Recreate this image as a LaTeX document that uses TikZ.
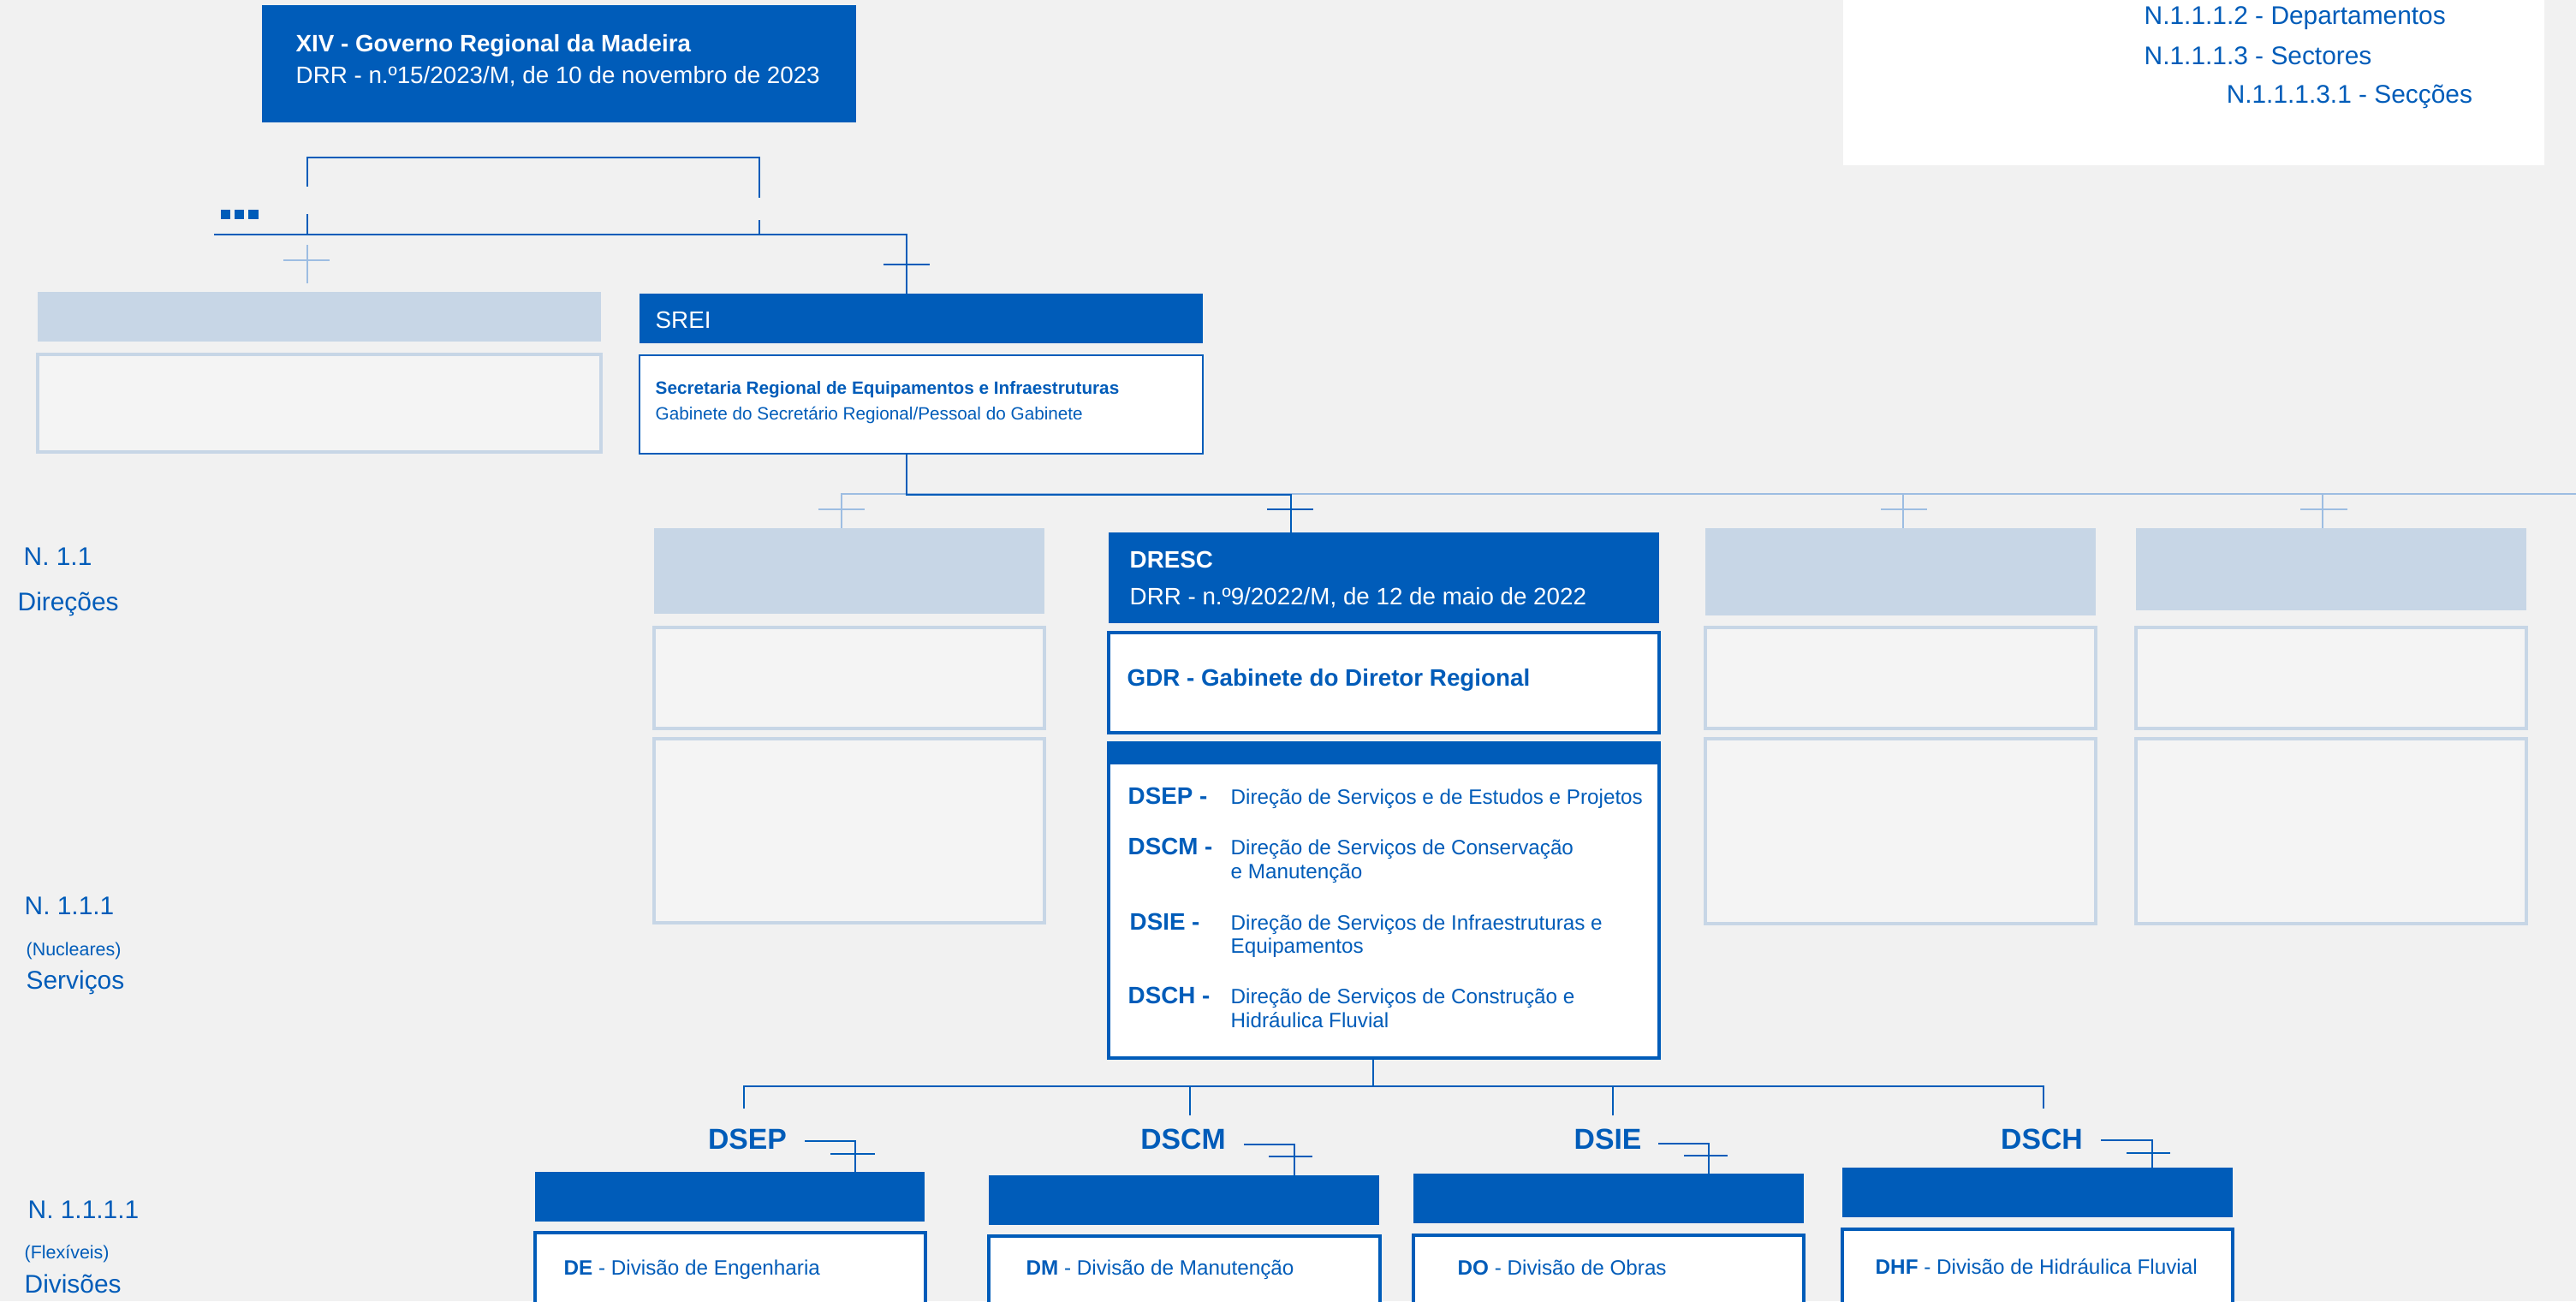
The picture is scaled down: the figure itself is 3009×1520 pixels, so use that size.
\documentclass[tikz,border=0pt]{standalone}
\usepackage{fontspec}
\setmainfont{Liberation Sans}

\definecolor{drBlue}{HTML}{005CB9}
\definecolor{drPale}{HTML}{C7D6E6}
\definecolor{drFaint}{HTML}{9DBDE2}
\definecolor{drBg}{HTML}{F1F1F1}
\definecolor{drEmpty}{HTML}{F4F4F4}

\newcommand{\fBig}{\fontsize{9.6}{11}\selectfont}
\newcommand{\fLbl}{\fontsize{8.5}{10}\selectfont}
\newcommand{\fMain}{\fontsize{7.9}{9}\selectfont}
\newcommand{\fDesc}{\fontsize{6.9}{8}\selectfont}
\newcommand{\fSmall}{\fontsize{5.9}{7}\selectfont}
\newcommand{\fNote}{\fontsize{6.1}{7}\selectfont}

\tikzset{
  cell/.style={anchor=north west, inner sep=0pt, outer sep=0pt},
  darkbox/.style={cell, fill=drBlue},
  palebox/.style={cell, fill=drPale},
  whitebox/.style={cell, fill=white, draw=drBlue, line width=0.9pt},
  emptybox/.style={cell, fill=drEmpty, draw=drPale, line width=0.9pt},
  link/.style={draw=drBlue, line width=0.7pt},
  faint/.style={draw=drFaint, line width=0.7pt},
  txt/.style={anchor=base west, inner sep=0pt, text=drBlue},
  wtxt/.style={anchor=base west, inner sep=0pt, text=white},
}

\begin{document}
\begin{tikzpicture}[x=0.1mm,y=-0.1mm]

	\useasboundingbox (0,0) rectangle (3009,1520);
	\fill[drBg] (0,0) rectangle (3009,1520);

	% legend
	\node[cell, fill=white, minimum width=81.9mm, minimum height=19.8mm] (legend) at (2153,-5) {};
	\node[txt, font=\fLbl] (lgDep) at (2504,29) {N.1.1.1.2 - Departamentos};
	\node[txt, font=\fLbl] (lgSec) at (2504,76) {N.1.1.1.3 - Sectores};
	\node[txt, font=\fLbl] (lgSub) at (2600,121) {N.1.1.1.3.1 - Secções};

	% levels on the left
	\node[txt, font=\fLbl] (lvDir) at (27,660) {N. 1.1};
	\node[txt, font=\fLbl] (lvDirName) at (20,713) {Direções};
	\node[txt, font=\fLbl] (lvServ) at (28,1068) {N. 1.1.1};
	\node[txt, font=\fNote] (lvServNote) at (30,1116) {(Nucleares)};
	\node[txt, font=\fLbl] (lvServName) at (30,1155) {Serviços};
	\node[txt, font=\fLbl] (lvDiv) at (32,1423) {N. 1.1.1.1};
	\node[txt, font=\fNote] (lvDivNote) at (28,1470) {(Flexíveis)};
	\node[txt, font=\fLbl] (lvDivName) at (28,1510) {Divisões};

	% government
	\node[darkbox, minimum width=69.4mm, minimum height=13.7mm] (gov) at (306,6) {};
	\node[wtxt, font=\fMain\bfseries] (govName) at (345,61) {XIV - Governo Regional da Madeira};
	\node[wtxt, font=\fMain] (govDRR) at (345,98) {DRR - n.º15/2023/M, de 10 de novembro de 2023};

	% secretarias
	\node[palebox, minimum width=65.8mm, minimum height=5.8mm] (leftHead) at (44,341) {};
	\node[emptybox, minimum width=65.8mm, minimum height=11.4mm] (leftBody) at (44,414) {};
	\node[darkbox, minimum width=65.8mm, minimum height=5.8mm] (sreiHead) at (747,343) {};
	\node[whitebox, line width=0.4pt, minimum width=65.8mm, minimum height=11.5mm] (sreiBody) at (747,415) {};
	\node[wtxt, font=\fMain] (sreiName) at (765,383) {SREI};
	\node[txt, font=\fSmall\bfseries] (sreiFull) at (765,460) {Secretaria Regional de Equipamentos e Infraestruturas};
	\node[txt, font=\fSmall] (sreiGab) at (765,490) {Gabinete do Secretário Regional/Pessoal do Gabinete};

	\coordinate (brL) at (359,184);
	\coordinate (brR) at (887,184);
	\draw[link] (359,218) -- (brL) -- (brR) -- (887,231);
	\draw[link] (359,250) -- (359,274);
	\draw[link] (887,257) -- (887,274);
	\coordinate (lineStart) at (250,274);
	\coordinate (jSrei) at (1059,274);
	\draw[link] (lineStart) -- (jSrei) -- (jSrei |- sreiHead.north);
	\draw[link] (1032,309) -- (1086,309);
	\fill[drBlue] (258,245) rectangle (269,256);
	\fill[drBlue] (274,245) rectangle (285,256);
	\fill[drBlue] (290,245) rectangle (302,256);
	\draw[faint] (359,286) -- (359,331);
	\draw[faint] (331,304) -- (385,304);

	% direcoes
	\node[palebox, minimum width=45.6mm, minimum height=10mm] (d1Head) at (764,617) {};
	\node[emptybox, minimum width=45.6mm, minimum height=11.8mm] (d1Mid) at (764,733) {};
	\node[emptybox, minimum width=45.6mm, minimum height=21.5mm] (d1Low) at (764,863) {};

	\node[darkbox, minimum width=64.3mm, minimum height=10.6mm] (dresc) at (1295,622) {};
	\node[wtxt, font=\fMain\bfseries] (drescName) at (1319,663) {DRESC};
	\node[wtxt, font=\fMain] (drescDRR) at (1319,706) {DRR - n.º9/2022/M, de 12 de maio de 2022};
	\node[whitebox, minimum width=64.3mm, minimum height=11.7mm] (gdr) at (1295,739) {};
	\node[txt, font=\fMain\bfseries] (gdrName) at (1316,801) {GDR - Gabinete do Diretor Regional};
	\node[whitebox, minimum width=64.3mm, minimum height=36.8mm] (serv) at (1295,868) {};
	\node[darkbox, minimum width=64.3mm, minimum height=2.5mm] (servBand) at (1295,868) {};

	\node[palebox, minimum width=45.6mm, minimum height=10.2mm] (d3Head) at (1992,617) {};
	\node[emptybox, minimum width=45.6mm, minimum height=11.8mm] (d3Mid) at (1992,733) {};
	\node[emptybox, minimum width=45.6mm, minimum height=21.6mm] (d3Low) at (1992,863) {};
	\node[palebox, minimum width=45.6mm, minimum height=9.6mm] (d4Head) at (2495,617) {};
	\node[emptybox, minimum width=45.6mm, minimum height=11.8mm] (d4Mid) at (2495,733) {};
	\node[emptybox, minimum width=45.6mm, minimum height=21.6mm] (d4Low) at (2495,863) {};

	\coordinate (fStart) at (983,577);
	\coordinate (fEnd) at (3020,577);
	\coordinate (f3) at (2223,577);
	\coordinate (f4) at (2713,577);
	\draw[faint] (fEnd) -- (fStart) -- (fStart |- d1Head.north);
	\draw[faint] (f3) -- (f3 |- d3Head.north);
	\draw[faint] (f4) -- (f4 |- d4Head.north);
	\draw[faint] (956,595) -- (1010,595);
	\draw[faint] (2197,595) -- (2251,595);
	\draw[faint] (2687,595) -- (2742,595);

	\coordinate (jA) at (1059,578);
	\coordinate (jB) at (1508,578);
	\draw[link] (jA |- sreiBody.south) -- (jA) -- (jB) -- (jB |- dresc.north);
	\draw[link] (1480,595) -- (1534,595);

	% servicos
	\node[txt, font=\fMain\bfseries] (svDsep) at (1317,939) {DSEP -};
	\node[txt, font=\fDesc] (svDsepA) at (1437,939) {Direção de Serviços e de Estudos e Projetos};
	\node[txt, font=\fMain\bfseries] (svDscm) at (1317,998) {DSCM -};
	\node[txt, font=\fDesc] (svDscmA) at (1437,998) {Direção de Serviços de Conservação};
	\node[txt, font=\fDesc] (svDscmB) at (1437,1026) {e Manutenção};
	\node[txt, font=\fMain\bfseries] (svDsie) at (1319,1086) {DSIE -};
	\node[txt, font=\fDesc] (svDsieA) at (1437,1086) {Direção de Serviços de Infraestruturas e};
	\node[txt, font=\fDesc] (svDsieB) at (1437,1113) {Equipamentos};
	\node[txt, font=\fMain\bfseries] (svDsch) at (1317,1172) {DSCH -};
	\node[txt, font=\fDesc] (svDschA) at (1437,1172) {Direção de Serviços de Construção e};
	\node[txt, font=\fDesc] (svDschB) at (1437,1200) {Hidráulica Fluvial};

	\coordinate (jServ) at (1604,1269);
	\coordinate (jDsep) at (869,1269);
	\coordinate (jDsch) at (2387,1269);
	\draw[link] (jServ |- serv.south) -- (jServ);
	\draw[link] (869,1295) -- (jDsep) -- (jDsch) -- (2387,1295);
	\draw[link] (1390,1269) -- (1390,1303);
	\draw[link] (1884,1269) -- (1884,1303);

	% divisoes
	\node[anchor=base, inner sep=0pt, text=drBlue, font=\fBig\bfseries] (lblDsep) at (873,1342) {DSEP};
	\node[anchor=base, inner sep=0pt, text=drBlue, font=\fBig\bfseries] (lblDscm) at (1382,1342) {DSCM};
	\node[anchor=base, inner sep=0pt, text=drBlue, font=\fBig\bfseries] (lblDsie) at (1878,1342) {DSIE};
	\node[anchor=base, inner sep=0pt, text=drBlue, font=\fBig\bfseries] (lblDsch) at (2385,1342) {DSCH};

	\node[darkbox, minimum width=45.5mm, minimum height=5.8mm] (dsepHead) at (625,1369) {};
	\node[whitebox, minimum width=45.6mm, minimum height=12mm] (dsepBody) at (625,1440) {};
	\node[darkbox, minimum width=45.6mm, minimum height=5.8mm] (dscmHead) at (1155,1373) {};
	\node[whitebox, minimum width=45.7mm, minimum height=12mm] (dscmBody) at (1155,1444) {};
	\node[darkbox, minimum width=45.6mm, minimum height=5.8mm] (dsieHead) at (1651,1371) {};
	\node[whitebox, minimum width=45.6mm, minimum height=12mm] (dsieBody) at (1651,1443) {};
	\node[darkbox, minimum width=45.6mm, minimum height=5.8mm] (dschHead) at (2152,1364) {};
	\node[whitebox, minimum width=45.6mm, minimum height=12mm] (dschBody) at (2152,1436) {};

	\coordinate (kDsep) at (999,1333);
	\draw[link] (940,1333) -- (kDsep) -- (kDsep |- dsepHead.north);
	\draw[link] (970,1348) -- (1022,1348);
	\coordinate (kDscm) at (1512,1337);
	\draw[link] (1453,1337) -- (kDscm) -- (kDscm |- dscmHead.north);
	\draw[link] (1482,1351) -- (1533,1351);
	\coordinate (kDsie) at (1996,1336);
	\draw[link] (1937,1336) -- (kDsie) -- (kDsie |- dsieHead.north);
	\draw[link] (1967,1350) -- (2018,1350);
	\coordinate (kDsch) at (2514,1332);
	\draw[link] (2454,1332) -- (kDsch) -- (kDsch |- dschHead.north);
	\draw[link] (2484,1347) -- (2535,1347);

	\node[txt, font=\fDesc] (divDE) at (658,1489) {\textbf{DE} - Divisão de Engenharia};
	\node[txt, font=\fDesc] (divDM) at (1198,1489) {\textbf{DM} - Divisão de Manutenção};
	\node[txt, font=\fDesc] (divDO) at (1702,1489) {\textbf{DO} - Divisão de Obras};
	\node[txt, font=\fDesc] (divDHF) at (2190,1488) {\textbf{DHF} - Divisão de Hidráulica Fluvial};

\end{tikzpicture}
\end{document}
